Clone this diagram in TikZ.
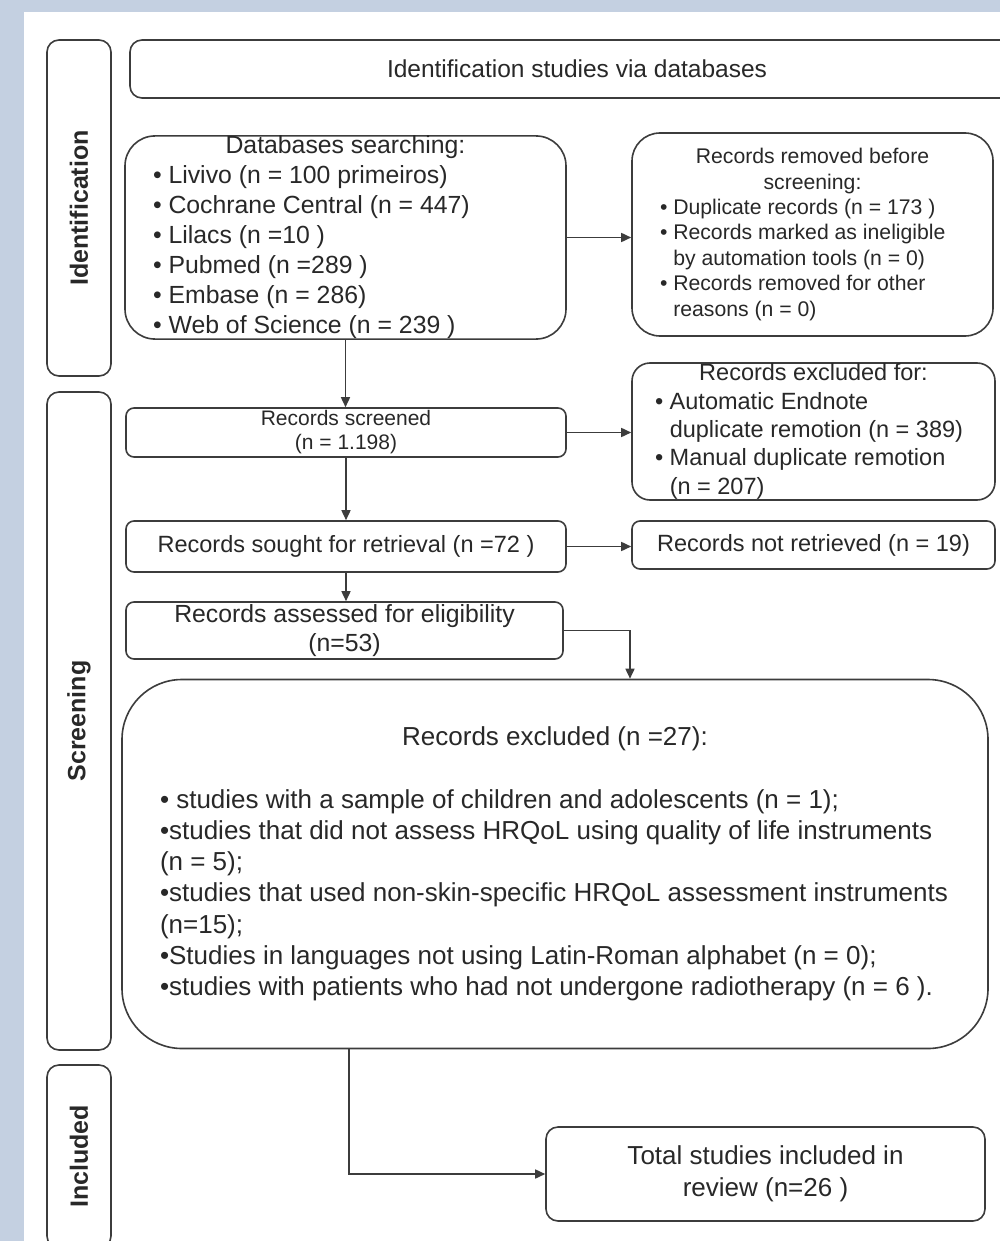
\documentclass[tikz,border=0pt]{standalone}
\usepackage{fontspec}
\setmainfont{Liberation Sans}
\usetikzlibrary{arrows.meta}
\definecolor{bgblue}{RGB}{196,208,225}
\definecolor{ln}{RGB}{60,60,60}
\definecolor{tx}{RGB}{40,40,40}
\newcommand{\myfs}[2]{\fontsize{#1pt}{#2pt}\selectfont}
\newcommand{\mybul}{\textbullet\ }
\newcommand{\myind}{\phantom{\textbullet\ }}
\begin{document}
\begin{tikzpicture}[x=1pt,y=-1pt,
 box/.style={draw=ln, line width=1.6pt, rounded corners=8pt, text=tx, inner sep=0pt, fill=white},
 side/.style={box, rotate=90, rounded corners=12pt, minimum height=64pt, font=\bfseries\myfs{25}{30}},
 arr/.style={draw=ln, line width=1.6pt, -{Triangle[length=10pt,width=9pt]}}]
\useasboundingbox (0,0) rectangle (1000,1241);
\fill[bgblue] (0,0) rectangle (1000,1241);
\fill[white] (24,12) rectangle (1000,1241);

% side labels
\node[side, minimum width=336pt] (idl) at (79,208) {Identification};
\node[side, minimum width=658pt] (scl) at (79,721) {Screening};
\node[side, minimum width=183pt] (inl) at (79,1156.5) {Included};

% header
\node[box, rounded corners=12pt, minimum width=894pt, minimum height=58pt, font=\myfs{24.5}{30}] (hdr) at (577,69) {Identification studies via databases};

% databases
\node[box, rounded corners=30pt, minimum width=441pt, minimum height=203pt, align=left, font=\myfs{24.8}{30}] (db) at (345.5,237.5)
 {\makebox[385pt]{Databases searching:}\\
  \mybul Livivo (n = 100 primeiros)\\
  \mybul Cochrane Central (n = 447)\\
  \mybul Lilacs (n =10 )\\
  \mybul Pubmed (n =289 )\\
  \mybul Embase (n = 286)\\
  \mybul Web of Science (n = 239 )};

% records removed
\node[box, rounded corners=28pt, minimum width=361pt, minimum height=203pt, align=left, font=\myfs{21.2}{25.4}] (rem) at (812.5,234.5)
 {\makebox[305pt]{Records removed before}\\
  \makebox[305pt]{screening:}\\
  \mybul Duplicate records (n = 173 )\\
  \mybul Records marked as ineligible\\
  \myind by automation tools (n = 0)\\
  \mybul Records removed for other\\
  \myind reasons (n = 0)};

% records screened
\node[box, minimum width=440pt, minimum height=49pt, align=center, font=\myfs{21}{24}] (scr) at (346,432.5)
 {Records screened\\(n = 1.198)};

% records excluded for
\node[box, rounded corners=18pt, minimum width=363pt, minimum height=137pt, align=left, font=\myfs{23.5}{28.3}] (exf) at (813.5,431.5)
 {\makebox[317pt]{Records excluded for:}\\
  \mybul Automatic Endnote\\
  \myind duplicate remotion (n = 389)\\
  \mybul Manual duplicate remotion\\
  \myind (n = 207)};

% sought
\node[box, minimum width=440pt, minimum height=51pt, font=\myfs{23.5}{28}] (seek) at (346,546.5)
 {Records sought for retrieval (n =72 )};

% not retrieved
\node[box, minimum width=363pt, minimum height=48pt, font=\myfs{23.5}{28}] (nret) at (813.5,545)
 {Records not retrieved (n = 19)};

% assessed
\node[box, minimum width=437pt, minimum height=57pt, align=center, font=\myfs{24.8}{29}] (ass) at (344.5,630.5)
 {Records assessed for eligibility\\(n=53)};

% excluded
\node[box, rounded corners=60pt, minimum width=866pt, minimum height=369pt, align=left, font=\myfs{26}{31.25}] (excl) at (555,864)
 {\makebox[790pt]{Records excluded (n =27):}\\
  \mbox{}\\
  \mybul studies with a sample of children and adolescents (n = 1);\\
  \textbullet studies that did not assess HRQoL using quality of life instruments\\
  (n = 5);\\
  \textbullet studies that used non-skin-specific HRQoL assessment instruments\\
  (n=15);\\
  \textbullet Studies in languages not using Latin-Roman alphabet (n = 0);\\
  \textbullet studies with patients who had not undergone radiotherapy (n = 6 ).};

% total
\node[box, rounded corners=12pt, minimum width=439pt, minimum height=94pt, align=center, font=\myfs{26}{32}] (tot) at (765.5,1174)
 {Total studies included in\\review (n=26 )};

% connectors
\draw[arr] (db.south) -- (db.south |- scr.north);
\draw[arr] (db.east) -- (db.east -| rem.west);
\draw[arr] (scr.east) -- (scr.east -| exf.west);
\draw[arr] (scr.south) -- (scr.south |- seek.north);
\draw[arr] (seek.east) -- (seek.east -| nret.west);
\draw[arr] (seek.south) -- (seek.south |- ass.north);
\draw[arr] (ass.east) -| ([xshift=75pt]excl.north);
\draw[arr] ([xshift=-206pt]excl.south) |- (tot.west);
\end{tikzpicture}
\end{document}
